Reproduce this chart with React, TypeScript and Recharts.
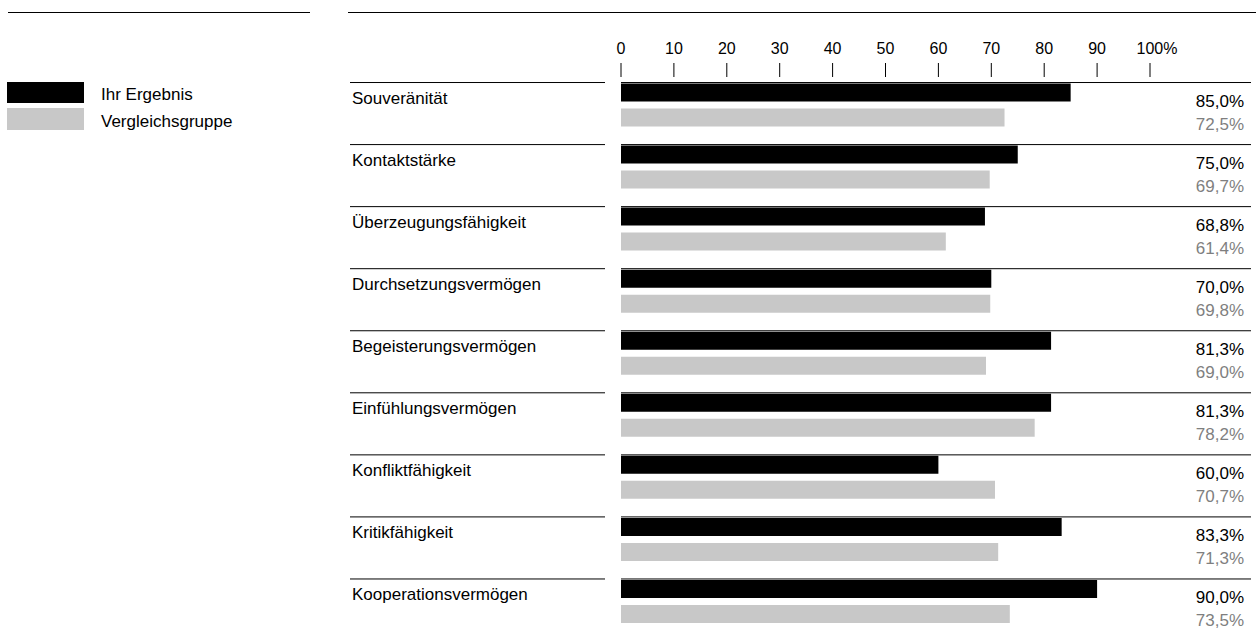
import { BarChart, Bar, XAxis, YAxis, Legend, LabelList } from 'recharts';

const categories = [
  'Souveränität',
  'Kontaktstärke',
  'Überzeugungsfähigkeit',
  'Durchsetzungsvermögen',
  'Begeisterungsvermögen',
  'Einfühlungsvermögen',
  'Konfliktfähigkeit',
  'Kritikfähigkeit',
  'Kooperationsvermögen',
];
const ihrErgebnis = [85.0, 75.0, 68.8, 70.0, 81.3, 81.3, 60.0, 83.3, 90.0];
const vergleichsgruppe = [72.5, 69.7, 61.4, 69.8, 69.0, 78.2, 70.7, 71.3, 73.5];
const xTicks = [0, 10, 20, 30, 40, 50, 60, 70, 80, 90, 100];

const data = categories.map((name, i) => ({
  name,
  ihr: ihrErgebnis[i],
  vergleich: vergleichsgruppe[i],
}));

const FONT = 'Arial, "Liberation Sans", Helvetica, sans-serif';
const BLACK = '#000000';
const GRAY = '#c8c8c8';
const GRAY_TEXT = '#7f7f7f';

const fmt = (v: number) => v.toFixed(1).replace('.', ',') + '%';

function TopTick({ x, y, payload }: any) {
  const isLast = payload.value === 100;
  return (
    <g>
      <text
        x={x}
        y={y - 25}
        dx={isLast ? 7 : 0}
        textAnchor="middle"
        dominantBaseline="central"
        fontSize={16}
        fontFamily={FONT}
        fill="#000"
      >
        {isLast ? '100%' : payload.value}
      </text>
      <line x1={x} x2={x} y1={y - 10.5} y2={y + 3.5} stroke="#000" strokeWidth={1} />
    </g>
  );
}

function CategoryTick({ y, payload }: any) {
  const top = y - 22;
  return (
    <g>
      <line x1={350} x2={605} y1={top} y2={top} stroke="#000" strokeWidth={1} />
      <line x1={621} x2={1251} y1={top} y2={top} stroke="#000" strokeWidth={1} />
      <text
        x={352}
        y={y - 6.5}
        textAnchor="start"
        dominantBaseline="central"
        fontSize={17}
        fontFamily={FONT}
        fill="#000"
      >
        {payload.value}
      </text>
    </g>
  );
}

// value text sits roughly on the bottom edge of its bar
const valueLabel = (color: string, dy: number) => (props: any) => {
  const { y, height, value } = props;
  return (
    <text
      x={1244}
      y={y + height / 2 + dy}
      textAnchor="end"
      dominantBaseline="central"
      fontSize={17}
      fontFamily={FONT}
      fill={color}
    >
      {fmt(Number(value))}
    </text>
  );
};

function LegendContent({ payload }: any) {
  return (
    <div style={{ fontFamily: FONT, fontSize: 17, color: '#000' }}>
      {(payload || []).map((p: any) => (
        <div key={p.value} style={{ display: 'flex', alignItems: 'center', height: 26.5 }}>
          <span
            style={{
              display: 'inline-block',
              width: 77,
              height: 21.5,
              background: p.color,
              marginLeft: 7,
              marginRight: 17,
            }}
          />
          <span style={{ position: 'relative', top: 3 }}>{p.value}</span>
        </div>
      ))}
    </div>
  );
}

export default function App() {
  return (
    <div style={{ position: 'relative', width: 1256, height: 630, overflow: 'hidden', background: '#fff' }}>
      <style>{'body{margin:0;}'}</style>
      <div style={{ position: 'absolute', left: 8, top: 12, width: 302, borderTop: '1px solid #000' }} />
      <div style={{ position: 'absolute', left: 348, top: 12, width: 908, borderTop: '1px solid #000' }} />
      <BarChart
        width={1256}
        height={630}
        data={data}
        layout="vertical"
        margin={{ top: 0, right: 106, left: 0, bottom: -2 }}
        barGap={7}
      >
        <XAxis
          type="number"
          orientation="top"
          domain={[0, 100]}
          ticks={xTicks}
          height={73.5}
          axisLine={false}
          tickLine={false}
          tickSize={0}
          tickMargin={0}
          tick={<TopTick />}
          interval={0}
        />
        <YAxis
          type="category"
          dataKey="name"
          width={621}
          axisLine={false}
          tickLine={false}
          tickSize={0}
          tick={<CategoryTick />}
          interval={0}
        />
        <Legend
          layout="vertical"
          align="center"
          verticalAlign="middle"
          wrapperStyle={{ left: 0, top: 79, width: 320 }}
          content={<LegendContent />}
        />
        <Bar dataKey="ihr" name="Ihr Ergebnis" fill={BLACK} barSize={18} isAnimationActive={false}>
          <LabelList dataKey="ihr" content={valueLabel('#000', 8.5)} />
        </Bar>
        <Bar dataKey="vergleich" name="Vergleichsgruppe" fill={GRAY} barSize={18} isAnimationActive={false}>
          <LabelList dataKey="vergleich" content={valueLabel(GRAY_TEXT, 6.5)} />
        </Bar>
      </BarChart>
    </div>
  );
}
